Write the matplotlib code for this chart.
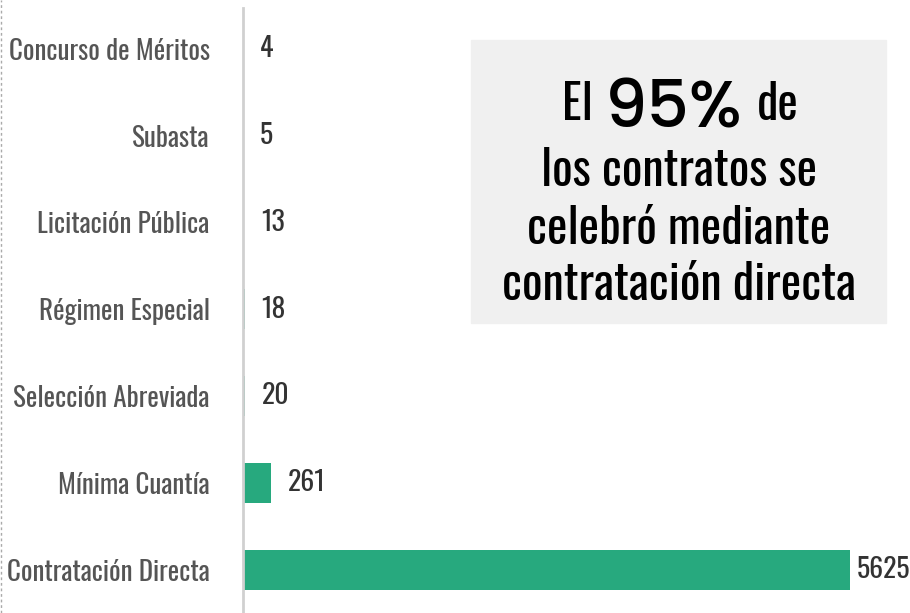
import matplotlib.pyplot as plt
from matplotlib.lines import Line2D
from matplotlib.patches import Rectangle

# data
categorias = ["Concurso de Méritos", "Subasta", "Licitación Pública", "Régimen Especial",
              "Selección Abreviada", "Mínima Cuantía", "Contratación Directa"]
contratos = [4, 5, 13, 18, 20, 261, 5625]

COND = ['Oswald', 'Barlow Condensed', 'DejaVu Sans']
GEO = ['Poppins', 'Montserrat', 'Lato']
verde = '#27a97e'

fig = plt.figure(figsize=(9.1, 6.13), dpi=100)
W, H = 910, 613
ax = fig.add_axes([243 / W, 0, 1 - 243 / W, 605 / H])

ypos = list(range(len(categorias)))
ax.barh(ypos, contratos, height=0.46, color=verde)
ax.set_ylim(len(categorias) - 0.5, -0.47)
ax.set_xlim(0, 5625 * 667 / 607)

for s in ['top', 'right', 'bottom']:
    ax.spines[s].set_visible(False)
ax.spines['left'].set_color('#d0d0d0')
ax.spines['left'].set_linewidth(2)
ax.set_xticks([])
ax.set_yticks(ypos)
ax.set_yticklabels(categorias, family=COND, fontsize=19.5, fontweight='light', color='#555555')
ax.tick_params(axis='y', length=0, pad=24)

for i, v in enumerate(contratos):
    off = 5 if v == max(contratos) else 12
    ax.annotate(str(v), (v, i), xytext=(off, 0), textcoords='offset points',
                ha='left', va='center', family=COND, fontsize=20, fontweight='light',
                color='#333333')

# caja de texto
fig.patches.append(Rectangle((471 / W, 1 - 323 / H), (886 - 471) / W, (323 - 40) / H,
                             transform=fig.transFigure, color='#f0f0f0', zorder=0))
big = dict(family=COND, fontsize=34.8, color='black', va='baseline')
fig.text(593 / W, 1 - 120 / H, "El", ha='right', **big)
fig.text(674 / W, 1 - 128 / H, "95%", family=GEO, fontweight='medium', fontsize=48,
         ha='center', va='baseline', color='black')
fig.text(757 / W, 1 - 120 / H, "de", ha='left', **big)
fig.text(679 / W, 1 - 186 / H, "los contratos se", ha='center', **big)
fig.text(679 / W, 1 - 244 / H, "celebró mediante", ha='center', **big)
fig.text(679 / W, 1 - 300 / H, "contratación directa", ha='center', **big)

fig.lines.append(Line2D([1 / W, 1 / W], [0, 1], transform=fig.transFigure,
                        color='#aaaaaa', lw=1, ls=(0, (2, 2))))

fig.savefig('out.png', dpi=100)
